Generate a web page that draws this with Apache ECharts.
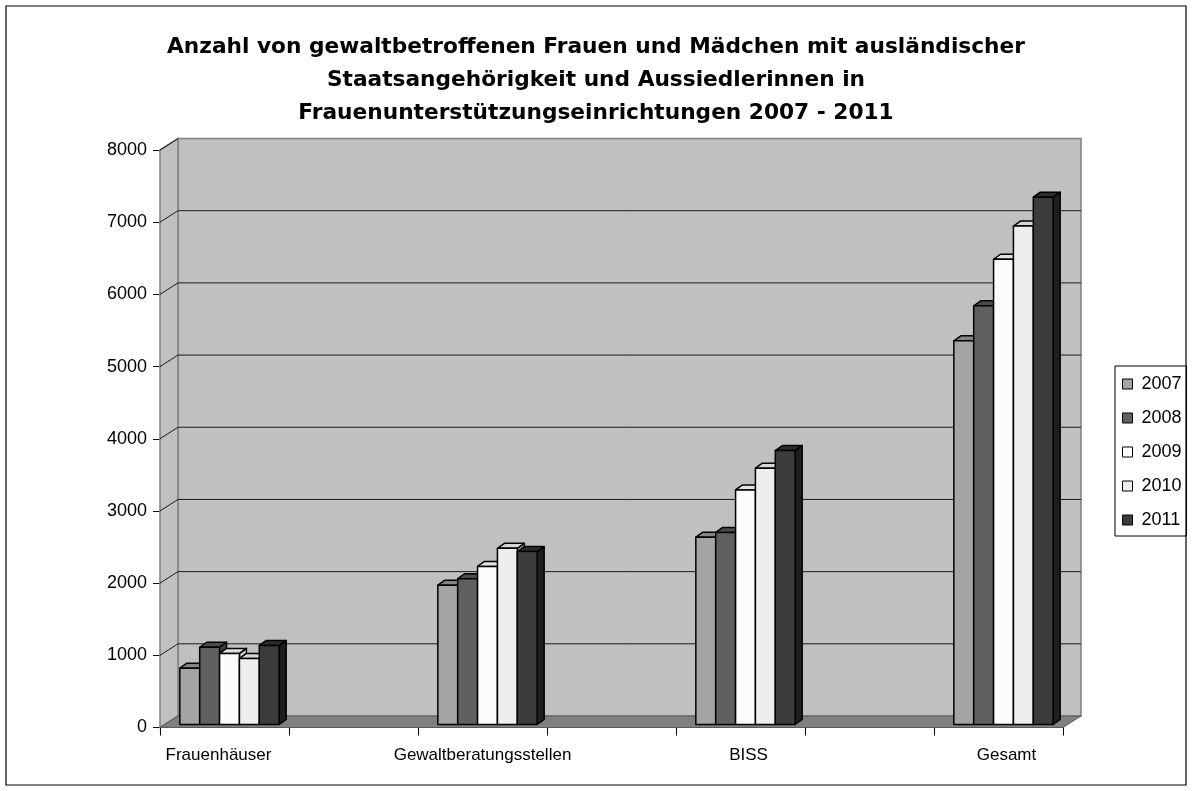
<!DOCTYPE html>
<html><head><meta charset="utf-8">
<script src="https://cdn.jsdelivr.net/npm/echarts@6/dist/echarts.min.js"></script>
<style>html,body{margin:0;padding:0;background:#fff}#c{width:1192px;height:791px}</style>
</head><body><div id="c"></div>
<script>
const titleText = 'Anzahl von gewaltbetroffenen Frauen und Mädchen mit ausländischer\nStaatsangehörigkeit und Aussiedlerinnen in\nFrauenunterstützungseinrichtungen 2007 - 2011';
const categories = ['Frauenhäuser', 'Gewaltberatungsstellen', 'BISS', 'Gesamt'];
const years = ['2007', '2008', '2009', '2010', '2011'];
const v2007 = [780, 1930, 2595, 5315];
const v2008 = [1070, 2020, 2660, 5800];
const v2009 = [985, 2190, 3250, 6445];
const v2010 = [915, 2440, 3550, 6905];
const v2011 = [1095, 2395, 3795, 7305];
const yTicks = [0, 1000, 2000, 3000, 4000, 5000, 6000, 7000, 8000];

const seriesValues = [v2007, v2008, v2009, v2010, v2011];
const frontColors = ['#A4A4A4', '#606060', '#FCFCFC', '#EEEEEE', '#3C3C3C'];
const topColors = ['#848484', '#4C4C4C', '#E2E2E2', '#D6D6D6', '#2C2C2C'];
const sideColors = ['#6E6E6E', '#3E3E3E', '#C8C8C8', '#BEBEBE', '#1E1E1E'];
// horizontal label nudges (px) per category: [left pad, right pad]
const labelPads = [[0, 12], [0, 0], [16, 0], [16, 0]];

// axis slots: each category followed by an empty slot
const slotLabels = [];
categories.forEach((c, i) => { slotLabels.push(c); if (i < categories.length - 1) slotLabels.push(''); });

const DX = 18, DY = -11.5;   // wall depth
const BX = 5, BY = -3;       // bar front offset
const TX = 7, TY = -5;       // bar depth
const FONT = 'Liberation Sans, Arial, sans-serif';

const rich = {};
labelPads.forEach((p, i) => {
  rich['c' + i] = {padding: [0, p[1], 0, p[0]], fontFamily: FONT, fontSize: 17, color: '#000'};
});

const chart = echarts.init(document.getElementById('c'), null, {renderer: 'canvas'});

function wallsRender(params, api) {
  const cs = params.coordSys;
  const x0 = cs.x, x1 = cs.x + cs.width, yT = cs.y, yB = cs.y + cs.height;
  const children = [];
  children.push({type: 'polygon', shape: {points: [[x0 + DX, yT + DY], [x1 + DX, yT + DY], [x1 + DX, yB + DY], [x0 + DX, yB + DY]]},
    style: {fill: '#C0C0C0', stroke: '#808080', lineWidth: 1.5}});
  children.push({type: 'polygon', shape: {points: [[x0, yT], [x0 + DX, yT + DY], [x0 + DX, yB + DY], [x0, yB]]},
    style: {fill: '#C0C0C0', stroke: '#808080', lineWidth: 1.5}});
  yTicks.forEach((t, i) => {
    if (i === 0) return;
    const y = api.coord([0, t])[1];
    const pts = (i === yTicks.length - 1) ? [[x0, y], [x0 + DX, y + DY]] : [[x0, y], [x0 + DX, y + DY], [x1 + DX, y + DY]];
    children.push({type: 'polyline', shape: {points: pts}, style: {stroke: '#1a1a1a', lineWidth: 1, fill: null}});
  });
  children.push({type: 'polygon', shape: {points: [[x0, yB], [x1, yB], [x1 + DX, yB + DY], [x0 + DX, yB + DY]]},
    style: {fill: '#808080', stroke: '#5a5a5a', lineWidth: 1}});
  return {type: 'group', children};
}

function barRender(s) {
  return function (params, api) {
    const slot = api.value(0), val = api.value(1);
    const c = api.coord([slot, val]);
    const base = api.coord([slot, 0]);
    const slotW = api.size([1, 0])[0];
    const bw = slotW * 0.77 / 5;
    const x = c[0] - 2.5 * bw + s * bw + BX;
    const yTop = c[1] + BY, yBot = base[1] + BY;
    const st = {stroke: '#000', lineWidth: 1.5, lineJoin: 'round'};
    return {type: 'group', children: [
      {type: 'polygon', shape: {points: [[x + bw, yTop], [x + bw + TX, yTop + TY], [x + bw + TX, yBot + TY], [x + bw, yBot]]},
        style: Object.assign({fill: sideColors[s]}, st)},
      {type: 'polygon', shape: {points: [[x, yTop], [x + bw, yTop], [x + bw + TX, yTop + TY], [x + TX, yTop + TY]]},
        style: Object.assign({fill: topColors[s]}, st)},
      {type: 'rect', shape: {x: x, y: yTop, width: bw, height: yBot - yTop},
        style: Object.assign({fill: frontColors[s]}, st)}
    ]};
  };
}

const series = [{
  type: 'custom', name: 'walls', silent: true, z: 1,
  renderItem: wallsRender, data: [[0, 0]], encode: {x: 0, y: 1}
}];
years.forEach((yr, s) => {
  series.push({
    type: 'custom', name: yr, z: 3 + s,
    itemStyle: {color: frontColors[s], borderColor: '#000', borderWidth: 1},
    renderItem: barRender(s),
    encode: {x: 0, y: 1},
    data: seriesValues[s].map((v, i) => [2 * i, v])
  });
});

chart.setOption({
  animation: false,
  backgroundColor: '#fff',
  title: {
    text: titleText, left: 'center', top: 25.5,
    textStyle: {fontFamily: 'DejaVu Sans, sans-serif', fontSize: 21.7, fontWeight: 'bold', color: '#000', lineHeight: 33}
  },
  legend: {
    data: years.map((y, s) => ({name: y, icon: 'rect', itemStyle: {color: frontColors[s], borderColor: '#000', borderWidth: 1}})),
    orient: 'vertical', left: 1115, top: 366,
    itemWidth: 10, itemHeight: 10, itemGap: 16,
    padding: [9, 5, 7, 7],
    borderColor: '#000', borderWidth: 1,
    textStyle: {fontFamily: FONT, fontSize: 18, color: '#000', lineHeight: 18, padding: [0, 0, 0, 4]},
    selectedMode: false
  },
  grid: {left: 160, right: 129, top: 150, bottom: 63.5},
  xAxis: {
    type: 'category', data: slotLabels, boundaryGap: true,
    axisLine: {lineStyle: {color: '#000', width: 1}},
    axisTick: {show: true, interval: 0, length: 8, lineStyle: {color: '#000'}},
    axisLabel: {
      interval: 0, margin: 19, fontFamily: FONT, fontSize: 17, color: '#000', rich: rich,
      formatter: (v) => { const i = categories.indexOf(v); return i < 0 ? '' : '{c' + i + '|' + v + '}'; }
    },
    splitLine: {show: false}
  },
  yAxis: {
    type: 'value', min: 0, max: 8000, interval: 1000,
    axisLine: {show: true, lineStyle: {color: '#000', width: 1}},
    axisTick: {show: true, length: 7, lineStyle: {color: '#000'}},
    axisLabel: {margin: 13, fontFamily: FONT, fontSize: 18, color: '#000', formatter: v => String(v)},
    splitLine: {show: false}
  },
  graphic: [{
    type: 'rect', shape: {x: 6, y: 6, width: 1180, height: 779},
    style: {fill: null, stroke: '#000', lineWidth: 1.2}, z: 100, silent: true
  }],
  series: series
});
</script></body></html>
